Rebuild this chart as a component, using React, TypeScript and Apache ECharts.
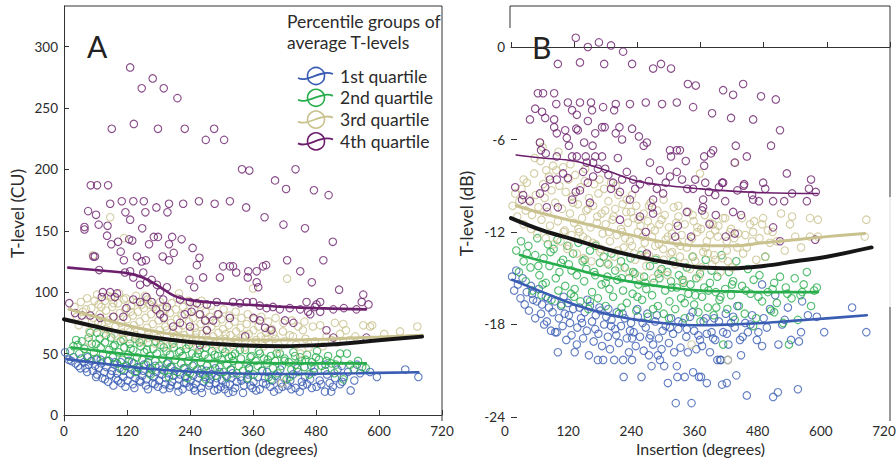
import React, { useEffect, useRef } from "react";
import * as echarts from "echarts";

const xTicks = [0, 120, 240, 360, 480, 600, 720];
const yTicksA = [0, 50, 100, 150, 200, 250, 300];
const yTicksB = [-24, -18, -12, -6, 0];
const groups = ["1st quartile", "2nd quartile", "3rd quartile", "4th quartile"];
const legendTitle = ["Percentile groups of", "average T-levels"];
const colors = ["#3a5db3", "#27ad4b", "#c9c28f", "#6c1f6d"];
const overallColor = "#161616";

// Panel A: T-level (CU) vs insertion (degrees)
const aQ1 = [[2,51],[9,45],[14,44],[22,42],[27,40],[33,46],[38,43],[41,38],[47,41],[52,44],[55,36],[59,40],[63,33],[66,38],[71,42],[73,30],[77,35],[81,39],[84,27],[89,33],[91,36],[96,41],[99,30],[101,34],[106,38],[109,26],[113,31],[114,36],[119,40],[121,28],[126,33],[129,37],[131,25],[136,30],[139,35],[141,39],[146,27],[149,32],[151,36],[156,24],[157,29],[163,34],[164,38],[169,26],[171,31],[176,35],[179,23],[181,28],[186,33],[187,37],[193,25],[194,30],[199,34],[201,22],[206,27],[209,32],[211,36],[216,24],[219,29],[221,33],[226,21],[229,26],[231,31],[236,35],[239,23],[241,28],[246,32],[249,20],[251,25],[256,30],[259,34],[261,22],[266,27],[269,31],[271,36],[276,24],[279,29],[281,33],[286,20],[289,26],[291,30],[296,35],[299,23],[301,28],[306,21],[309,32],[313,18],[316,25],[319,30],[321,34],[326,22],[329,27],[336,31],[341,18],[343,24],[349,29],[351,33],[359,22],[361,27],[369,31],[373,21],[379,26],[383,30],[387,35],[393,23],[397,28],[403,32],[409,21],[413,26],[419,30],[426,24],[431,28],[436,33],[441,22],[449,19],[453,27],[459,31],[463,25],[469,29],[476,35],[481,23],[487,28],[497,19],[501,33],[506,26],[509,19],[516,30],[521,37],[526,25],[533,31],[541,35],[546,20],[553,28],[564,34],[583,35],[596,31],[650,37],[675,31],[45,47],[62,45],[85,44],[108,43],[133,42],[152,41],[174,40],[203,39],[228,38],[262,37],[288,38],[318,37],[352,38],[378,36],[412,37],[444,38],[471,40],[498,41],[529,40],[558,41],[18,47],[31,38],[44,35],[61,31],[78,29],[94,24],[103,28],[117,23],[134,22],[144,28],[160,21],[173,25],[189,21],[203,24],[218,19],[233,26],[247,22],[263,18],[277,26],[293,21],[308,25],[322,19],[338,28],[355,24],[366,20],[385,25],[400,19],[416,23],[433,21],[455,24],[472,22],[490,25],[512,23],[530,27],[70,45],[97,43],[123,44],[160,43],[196,42],[245,40]];
const aQ2 = [[12,52],[18,56],[23,61],[29,50],[34,60],[39,54],[44,48],[50,67],[53,58],[57,51],[63,67],[62,46],[68,62],[70,55],[74,49],[78,59],[82,44],[86,53],[90,63],[93,47],[97,57],[101,42],[104,51],[108,60],[111,45],[115,55],[118,40],[122,49],[125,58],[129,43],[132,53],[136,62],[139,47],[142,38],[146,56],[149,45],[153,51],[156,41],[160,59],[163,48],[167,37],[170,54],[174,44],[177,50],[181,40],[184,57],[188,46],[191,36],[195,52],[198,43],[202,49],[205,39],[209,55],[212,45],[216,35],[219,51],[223,42],[226,48],[230,38],[233,54],[237,44],[240,34],[244,50],[247,41],[251,47],[254,37],[258,53],[261,43],[265,33],[268,49],[272,40],[275,46],[279,36],[282,52],[286,42],[289,32],[293,48],[296,39],[300,45],[304,35],[307,51],[311,41],[314,47],[318,37],[322,44],[326,50],[329,34],[333,40],[337,46],[341,36],[345,53],[349,42],[353,38],[357,48],[361,33],[365,44],[369,40],[373,50],[377,36],[381,46],[386,42],[390,31],[394,48],[398,38],[402,44],[407,34],[411,50],[415,40],[420,46],[424,29],[428,43],[433,37],[437,51],[441,41],[446,35],[450,47],[453,44],[458,39],[463,49],[467,33],[472,43],[477,38],[482,52],[486,45],[491,40],[497,36],[503,48],[509,42],[515,34],[521,45],[526,50],[532,29],[539,50],[545,41],[552,37],[560,44],[568,39],[575,38],[26,57],[47,63],[61,58],[80,65],[94,56],[113,61],[127,54],[144,59],[158,53],[175,60],[190,55],[207,58],[222,52],[238,57],[255,50],[270,55],[287,49],[302,54],[320,48],[335,53],[355,47],[371,52],[388,45],[405,50],[420,44],[440,48],[460,45],[480,47],[500,44],[518,41],[110,37],[135,35],[165,33],[200,31],[235,30],[270,29],[310,31],[350,30],[395,29],[430,31]];
const aQ3 = [[20,88],[24,80],[28,73],[32,92],[36,84],[40,76],[44,95],[48,68],[52,87],[55,130],[56,79],[60,71],[63,98],[66,90],[68,82],[72,74],[75,66],[78,93],[80,85],[84,77],[86,69],[88,161],[90,96],[92,88],[95,80],[98,72],[100,64],[103,91],[106,83],[108,75],[111,67],[114,144],[114,94],[117,86],[120,78],[122,70],[125,62],[128,89],[131,81],[133,73],[136,65],[139,92],[141,84],[144,76],[147,68],[150,60],[152,87],[155,79],[158,71],[160,63],[163,90],[166,82],[169,74],[171,66],[174,58],[177,85],[180,77],[182,69],[185,61],[188,88],[191,80],[193,72],[196,64],[199,56],[202,83],[204,75],[207,67],[210,59],[213,86],[215,78],[218,70],[221,62],[224,81],[226,73],[229,65],[232,57],[235,84],[238,76],[240,68],[243,60],[246,79],[249,71],[251,63],[254,55],[257,82],[260,74],[263,66],[266,58],[269,77],[272,69],[275,61],[278,80],[281,72],[284,64],[287,56],[290,75],[294,67],[297,59],[300,78],[303,70],[307,62],[310,54],[314,73],[317,65],[321,57],[325,76],[328,68],[332,60],[336,71],[340,63],[344,55],[348,74],[352,66],[357,58],[360,103],[361,69],[366,61],[370,72],[375,64],[380,56],[385,67],[390,59],[392,69],[396,70],[402,62],[408,54],[415,26],[417,68],[420,60],[425,111],[430,65],[436,64],[442,57],[450,50],[455,69],[460,62],[466,55],[474,72],[478,60],[488,73],[493,56],[500,64],[510,61],[516,75],[520,59],[526,66],[532,74],[537,69],[545,61],[555,64],[570,73],[583,72],[587,73],[610,66],[640,68],[673,72],[42,86],[58,93],[71,88],[83,97],[94,91],[105,99],[118,95],[127,84],[137,97],[148,90],[159,94],[170,88],[183,92],[194,86],[205,91],[216,95],[227,88],[237,93],[248,86],[258,90],[270,84],[280,89],[292,82],[304,86],[315,81],[327,84],[338,79],[350,82],[362,78],[376,80],[389,76],[403,79],[418,75],[434,77],[446,72],[458,76],[96,66],[112,62],[126,68],[143,61],[161,66],[178,63],[196,69],[214,65],[233,62],[252,67],[271,64],[289,58],[308,66],[327,61],[346,65],[365,59],[384,62],[399,66],[47,60],[65,75],[79,70],[154,97],[219,99],[262,93]];
const aQ4 = [[126,283],[169,274],[148,266],[190,266],[216,258],[91,233],[133,237],[179,233],[230,233],[286,233],[270,224],[305,224],[339,200],[353,199],[441,200],[402,191],[423,184],[476,183],[504,179],[51,187],[63,187],[84,187],[46,166],[61,163],[88,172],[110,174],[132,174],[152,174],[117,165],[155,165],[126,159],[176,169],[200,172],[197,165],[227,172],[257,174],[287,172],[316,174],[347,169],[382,161],[418,155],[459,152],[39,153],[66,155],[83,154],[149,152],[39,151],[82,146],[90,139],[103,141],[124,143],[130,142],[108,133],[114,126],[139,129],[148,125],[156,126],[162,139],[171,145],[179,145],[206,145],[200,139],[209,132],[224,143],[245,136],[258,128],[253,122],[265,112],[239,110],[248,104],[188,129],[200,126],[303,121],[316,121],[322,121],[297,112],[351,117],[367,117],[379,121],[385,122],[367,108],[370,104],[425,126],[450,117],[494,126],[512,141],[524,102],[472,108],[328,116],[350,112],[56,129],[59,129],[67,118],[74,100],[88,100],[101,99],[97,96],[72,96],[10,91],[21,83],[34,81],[50,81],[69,79],[94,80],[119,87],[113,80],[132,94],[145,92],[157,96],[167,92],[175,86],[183,82],[190,79],[196,88],[208,72],[221,75],[230,82],[243,84],[259,82],[269,77],[284,77],[294,82],[316,79],[272,69],[259,57],[240,72],[345,64],[361,79],[373,77],[383,71],[395,69],[421,77],[437,75],[450,86],[465,84],[478,88],[488,92],[500,69],[513,86],[513,63],[557,86],[570,98],[567,92],[576,63],[580,90],[533,87],[221,94],[240,92],[253,91],[272,90],[291,92],[322,92],[335,91],[348,92],[360,92],[373,89],[386,87],[398,88],[411,86],[430,87],[462,92],[469,82],[481,90],[488,84],[189,94],[183,100],[196,104],[177,106],[158,108],[145,106],[132,112],[116,116],[126,117],[151,116],[167,110]];
const aFitQ1 = [[5,45.5],[60,42.5],[120,39.5],[180,37],[240,35.3],[300,34.2],[360,33.6],[420,33.4],[480,33.6],[560,34],[675,34.8]];
const aFitQ2 = [[15,55],[60,52.5],[120,49.5],[180,47],[240,45],[300,43.5],[360,42.5],[420,42],[480,42],[575,42]];
const aFitQ3 = [[10,86],[60,80],[120,73],[180,67.5],[240,64],[300,62],[360,61],[420,61],[480,61.5],[540,62.5],[600,63.5],[682,65]];
const aFitQ4 = [[8,120],[60,118],[120,115.5],[150,112],[180,105],[210,97],[240,93.5],[300,91],[360,89.5],[420,88],[480,87],[575,86]];
const aFitAll = [[0,78],[60,72],[120,66.5],[180,62.5],[240,59.5],[300,57.5],[360,56.3],[420,56],[480,56.8],[540,58.5],[600,60.8],[682,63.8]];

// Panel B: T-level (dB) vs insertion (degrees)
const bQ1 = [[2,-14.9],[6,-15.8],[10,-14.5],[13,-15.4],[18,-16.3],[22,-15.0],[26,-16.7],[30,-15.9],[34,-17.1],[38,-15.5],[42,-16.4],[46,-17.6],[49,-16.5],[53,-15.7],[57,-17.3],[59,-16.7],[63,-18.0],[66,-16.2],[68,-17.8],[72,-16.9],[76,-18.4],[79,-17.2],[83,-16.5],[84,-18.5],[87,-18.5],[89,-19.8],[91,-17.6],[95,-16.8],[98,-18.1],[102,-17.3],[105,-19.0],[108,-16.6],[112,-17.9],[115,-18.7],[118,-17.0],[121,-19.8],[125,-19.3],[126,-18.2],[130,-16.9],[133,-17.6],[137,-18.9],[140,-17.2],[144,-18.4],[148,-20.0],[150,-16.8],[154,-17.8],[157,-19.1],[161,-17.4],[165,-20.3],[166,-18.6],[170,-17.1],[173,-19.4],[175,-20.3],[177,-18.0],[181,-17.5],[184,-18.8],[188,-19.6],[191,-17.7],[196,-20.3],[198,-18.3],[201,-17.2],[205,-19.2],[209,-18.1],[213,-20.3],[214,-21.4],[216,-17.6],[220,-18.9],[224,-19.8],[228,-17.9],[230,-20.3],[233,-18.5],[237,-19.4],[241,-17.5],[245,-18.8],[248,-21.4],[252,-19.7],[256,-18.2],[259,-17.3],[262,-20.0],[265,-18.7],[267,-20.7],[270,-19.3],[274,-17.8],[279,-20.0],[281,-18.9],[283,-20.3],[286,-19.6],[291,-20.7],[294,-18.1],[298,-21.8],[300,-19.2],[304,-17.6],[308,-18.6],[310,-19.8],[313,-23.1],[315,-20.7],[316,-21.4],[318,-18.3],[322,-19.5],[326,-17.9],[330,-21.4],[333,-18.8],[336,-19.8],[340,-17.5],[343,-23.1],[346,-21.1],[348,-18.4],[352,-19.6],[357,-21.4],[359,-19.0],[361,-21.4],[363,-19.4],[366,-17.8],[372,-21.8],[372,-18.6],[378,-19.8],[381,-18.5],[386,-17.6],[388,-19.0],[392,-20.3],[397,-20.3],[399,-20.3],[401,-21.9],[403,-18.5],[408,-17.3],[410,-21.8],[412,-20.3],[413,-19.3],[418,-17.9],[425,-18.2],[428,-21.3],[430,-16.8],[435,-19.0],[437,-20.0],[445,-17.9],[448,-22.6],[450,-18.5],[458,-17.4],[467,-19.0],[470,-18.5],[477,-15.4],[477,-19.4],[486,-18.2],[492,-17.0],[498,-22.7],[502,-16.1],[507,-22.4],[508,-19.3],[515,-18.0],[520,-17.7],[526,-16.9],[532,-19.0],[545,-22.2],[547,-19.1],[551,-18.5],[553,-16.5],[564,-17.4],[581,-17.5],[595,-18.5],[648,-16.9],[675,-18.5],[40,-16.0],[70,-16.3],[100,-16.2],[110,-17.4],[135,-17.9],[145,-16.4],[160,-18.3],[168,-16.9],[185,-17.0],[200,-18.7],[212,-17.3],[226,-18.4],[240,-17.0],[250,-17.9],[263,-18.9],[277,-17.4],[288,-18.4],[302,-18.2],[318,-17.8],[334,-18.3],[345,-17.2],[356,-18.7],[370,-17.6],[384,-18.9],[395,-17.8],[410,-18.6],[422,-17.5],[440,-18.8],[455,-18.0],[480,-17.6],[230,-18.9],[190,-18.1]];
const bQ2 = [[10,-13.2],[15,-14.6],[19,-12.6],[24,-13.9],[28,-15.2],[33,-12.9],[37,-14.3],[41,-15.8],[46,-13.5],[50,-12.4],[54,-14.8],[58,-16.1],[62,-13.7],[66,-15.3],[70,-12.8],[73,-14.2],[77,-16.4],[81,-13.1],[85,-15.0],[88,-12.5],[92,-14.6],[96,-16.7],[99,-13.8],[103,-15.5],[107,-12.9],[110,-14.1],[114,-16.0],[118,-13.4],[121,-15.7],[125,-14.8],[128,-12.7],[132,-16.5],[136,-13.9],[139,-15.2],[143,-14.4],[147,-17.0],[150,-13.2],[154,-15.9],[158,-14.6],[161,-12.9],[165,-16.3],[169,-14.0],[172,-15.4],[176,-13.6],[180,-16.8],[183,-14.9],[187,-15.7],[191,-13.4],[194,-16.2],[198,-14.5],[202,-15.1],[205,-17.3],[209,-13.9],[213,-15.8],[216,-14.3],[220,-16.6],[224,-15.0],[227,-13.7],[231,-16.0],[235,-14.7],[238,-17.1],[242,-15.4],[246,-13.5],[249,-16.4],[253,-14.9],[257,-15.7],[260,-17.5],[264,-14.2],[268,-16.1],[271,-15.3],[275,-13.8],[279,-16.8],[282,-15.0],[286,-14.4],[290,-17.3],[293,-15.8],[297,-14.6],[301,-16.5],[304,-15.2],[308,-13.9],[312,-17.0],[315,-15.6],[319,-14.8],[323,-16.3],[326,-15.1],[330,-17.6],[334,-14.3],[337,-16.0],[341,-15.4],[345,-13.6],[348,-16.7],[352,-15.0],[356,-17.2],[359,-14.7],[363,-16.2],[367,-15.6],[370,-13.8],[374,-16.9],[378,-15.3],[381,-14.5],[385,-17.4],[389,-15.9],[392,-14.9],[396,-16.4],[400,-13.5],[403,-19.3],[407,-15.7],[411,-17.0],[414,-14.6],[418,-16.1],[422,-15.2],[428,-13.9],[433,-16.8],[439,-15.5],[444,-17.3],[450,-14.4],[455,-16.0],[461,-15.1],[466,-17.6],[472,-14.8],[477,-16.5],[483,-13.6],[488,-15.9],[494,-17.1],[500,-15.3],[505,-16.6],[511,-14.9],[517,-17.9],[522,-15.6],[528,-19.3],[533,-16.3],[539,-15.0],[545,-17.7],[550,-16.1],[556,-15.4],[562,-14.6],[570,-16.8],[576,-15.8],[581,-15.6],[30,-13.4],[52,-14.2],[75,-13.3],[95,-14.0],[115,-14.5],[140,-13.8],[160,-14.8],[185,-14.1],[210,-15.0],[232,-14.6],[255,-15.3],[280,-14.7],[305,-15.6],[328,-15.3],[350,-16.1],[375,-15.8],[398,-16.2],[420,-15.4],[446,-15.8],[470,-16.2],[497,-15.7],[525,-16.0],[553,-15.9],[60,-15.4],[90,-15.8],[120,-16.2],[150,-16.5],[180,-15.3],[210,-16.9],[240,-16.2],[270,-17.0],[300,-17.6],[330,-16.6],[360,-17.8],[390,-16.9],[425,-17.7],[460,-18.1],[500,-17.2]];
const bQ3 = [[3,-10.3],[8,-9.5],[12,-11.0],[16,-10.0],[20,-9.2],[24,-11.5],[28,-10.6],[30,-8.8],[34,-9.9],[38,-11.8],[40,-10.9],[44,-8.2],[47,-9.6],[50,-12.1],[52,-10.4],[55,-6.2],[56,-7.4],[58,-11.2],[61,-8.9],[64,-9.8],[66,-12.4],[69,-10.7],[72,-8.4],[74,-11.6],[77,-9.3],[80,-7.7],[81,-12.8],[84,-10.1],[86,-8.0],[89,-11.3],[92,-9.0],[94,-12.6],[97,-10.5],[99,-7.8],[102,-11.9],[104,-9.4],[107,-13.1],[109,-8.6],[112,-10.8],[115,-12.2],[117,-9.7],[120,-11.4],[122,-8.3],[125,-13.4],[127,-10.2],[130,-12.0],[132,-9.1],[135,-11.1],[138,-13.7],[140,-8.7],[143,-10.6],[145,-12.5],[148,-9.8],[151,-11.7],[153,-13.9],[156,-10.3],[158,-8.9],[161,-12.8],[164,-11.0],[166,-9.5],[169,-13.3],[172,-10.8],[174,-12.1],[177,-9.2],[180,-11.5],[182,-14.0],[185,-10.0],[188,-12.6],[190,-8.8],[193,-11.2],[196,-13.6],[198,-10.5],[201,-12.2],[204,-9.6],[206,-14.3],[209,-11.8],[212,-10.2],[214,-13.0],[217,-12.4],[220,-9.9],[222,-11.4],[225,-14.6],[228,-10.7],[230,-12.9],[233,-11.1],[236,-13.8],[238,-10.3],[241,-12.0],[244,-14.9],[246,-11.6],[249,-13.2],[252,-10.8],[254,-12.7],[257,-14.2],[260,-11.3],[262,-13.5],[265,-10.1],[268,-12.3],[270,-15.0],[273,-11.9],[276,-13.7],[278,-10.6],[281,-12.8],[284,-14.5],[286,-11.2],[289,-13.1],[292,-10.9],[294,-12.5],[297,-14.8],[300,-11.7],[303,-13.4],[306,-12.1],[309,-10.4],[312,-14.1],[315,-12.7],[318,-11.0],[321,-13.6],[324,-12.2],[327,-15.2],[330,-11.5],[334,-13.0],[337,-10.7],[340,-14.4],[344,-12.4],[347,-11.3],[350,-13.9],[354,-12.0],[357,-14.9],[359,-8.2],[361,-11.8],[365,-13.3],[368,-10.9],[372,-12.6],[374,-13.4],[378,-11.4],[382,-14.1],[384,-11.5],[388,-13.8],[388,-11.9],[393,-12.3],[398,-14.6],[403,-11.1],[407,-11.1],[410,-13.2],[412,-13.9],[416,-12.0],[420,-14.3],[424,-12.4],[426,-7.5],[430,-13.0],[439,-11.1],[441,-13.4],[445,-12.2],[454,-11.5],[458,-12.6],[460,-12.0],[466,-13.8],[477,-11.5],[479,-11.1],[483,-13.6],[492,-12.7],[497,-12.0],[513,-10.8],[520,-13.2],[530,-11.5],[534,-11.0],[540,-12.3],[551,-13.0],[568,-11.1],[568,-12.3],[583,-11.2],[583,-12.3],[672,-12.3],[675,-11.2],[343,-19.3],[412,-20.3],[100,-12.0],[110,-12.9],[118,-10.1],[128,-11.8],[137,-12.3],[146,-10.5],[155,-12.7],[163,-11.4],[171,-13.1],[179,-10.6],[186,-12.0],[195,-11.0],[203,-13.2],[211,-12.0],[219,-10.7],[226,-12.6],[234,-13.4],[242,-11.2],[250,-12.3],[258,-13.6],[266,-11.7],[274,-12.9],[282,-11.5],[290,-13.8],[298,-12.3],[306,-13.3],[314,-11.4],[322,-12.9],[330,-14.0],[338,-12.6],[346,-13.6],[354,-11.7],[362,-14.3],[370,-13.0],[378,-12.2],[386,-13.5],[394,-11.6],[402,-13.7],[410,-12.6],[418,-11.8],[432,-12.1],[448,-13.0],[462,-11.3],[472,-12.4],[488,-11.9],[505,-12.6],[24,-8.6],[45,-7.2],[67,-8.0],[60,-6.5],[90,-6.8],[113,-7.6],[141,-7.9],[168,-8.6],[199,-9.0],[230,-9.6],[262,-10.3],[290,-9.9],[318,-10.3],[345,-10.9]];
const bQ4 = [[123,0.6],[146,0],[167,0.3],[190,0.1],[213,-0.3],[89,-1.1],[131,-1.0],[177,-1.1],[230,-1.1],[270,-1.4],[285,-1.1],[304,-1.4],[336,-2.4],[351,-2.5],[403,-2.8],[422,-3.1],[441,-2.4],[475,-3.2],[503,-3.4],[51,-3.0],[61,-3.0],[82,-3.0],[46,-4.0],[59,-4.2],[36,-4.7],[65,-4.6],[82,-4.7],[86,-3.7],[108,-3.6],[131,-3.6],[152,-3.6],[154,-4.1],[116,-4.1],[125,-4.4],[175,-3.9],[199,-3.7],[196,-4.1],[226,-3.7],[256,-3.6],[287,-3.7],[315,-3.6],[346,-3.9],[382,-4.3],[418,-4.6],[460,-4.7],[146,-4.8],[82,-5.2],[87,-5.6],[103,-5.4],[124,-5.3],[127,-5.4],[160,-5.6],[173,-5.2],[178,-5.2],[199,-5.6],[206,-5.2],[230,-5.3],[243,-5.8],[211,-6.0],[106,-5.9],[110,-6.4],[139,-6.2],[155,-6.4],[252,-6.4],[258,-6.2],[55,-6.2],[57,-6.7],[66,-6.9],[87,-7.1],[116,-7.1],[125,-7.1],[142,-7.1],[160,-7.1],[173,-7.1],[144,-7.5],[156,-7.5],[203,-7.2],[264,-7.5],[302,-6.7],[315,-6.7],[321,-6.7],[304,-7.1],[332,-7.4],[367,-7.1],[380,-6.9],[384,-6.7],[427,-6.4],[448,-7.1],[494,-6.4],[511,-5.4],[425,-7.5],[367,-7.7],[524,-8.2],[570,-8.6],[566,-9.2],[579,-9.4],[562,-10.0],[534,-9.5],[519,-10.0],[498,-10.0],[483,-9.2],[479,-8.8],[471,-10.0],[458,-9.6],[460,-9.9],[443,-8.9],[430,-9.3],[422,-10.7],[407,-10.0],[403,-8.8],[388,-9.6],[376,-9.4],[369,-8.8],[365,-9.9],[363,-10.6],[346,-9.2],[335,-9.2],[334,-10.7],[325,-8.6],[315,-8.1],[302,-8.4],[294,-8.8],[289,-9.5],[277,-9.2],[270,-9.9],[268,-10.4],[270,-10.8],[245,-8.9],[236,-9.2],[226,-9.9],[211,-8.6],[207,-9.4],[194,-8.8],[190,-9.2],[179,-7.9],[165,-7.9],[156,-8.4],[146,-8.8],[137,-8.1],[131,-9.3],[123,-9.4],[108,-8.5],[99,-8.2],[87,-8.6],[74,-8.6],[65,-9.1],[55,-9.5],[36,-10.0],[23,-9.6],[21,-9.9],[8,-9.1],[68,-10.4],[89,-10.4],[116,-9.9],[150,-10.1],[207,-11.2],[245,-11.0],[317,-11.6],[256,-12.0],[312,-12.3],[342,-12.3],[408,-12.3],[425,-12.1],[511,-12.6],[578,-12.5],[258,-13.4],[401,-8.8],[442,-9.0],[377,-11.5],[389,-10.9],[365,-10.4],[437,-10.9],[498,-11.7],[185,-8.3],[220,-8.1],[232,-8.6],[283,-8.0],[262,-8.7],[350,-8.6],[395,-9.1]];
const bFitQ1 = [[2,-15.1],[60,-15.9],[120,-16.7],[180,-17.3],[240,-17.7],[300,-17.95],[360,-18.05],[420,-18.0],[480,-17.9],[540,-17.75],[600,-17.6],[676,-17.4]];
const bFitQ2 = [[17,-13.5],[60,-13.9],[120,-14.4],[180,-14.9],[240,-15.3],[300,-15.6],[360,-15.8],[420,-15.85],[480,-15.9],[583,-15.9]];
const bFitQ3 = [[10,-10.3],[60,-10.8],[120,-11.3],[180,-11.8],[240,-12.3],[300,-12.7],[360,-12.9],[420,-12.9],[480,-12.7],[540,-12.5],[600,-12.3],[672,-12.1]];
const bFitQ4 = [[10,-7.0],[60,-7.2],[120,-7.4],[180,-8.0],[240,-8.7],[300,-9.0],[360,-9.2],[420,-9.35],[480,-9.45],[583,-9.5]];
const bFitAll = [[0,-11.1],[60,-11.9],[120,-12.5],[180,-13.1],[240,-13.6],[300,-14.0],[360,-14.3],[420,-14.35],[480,-14.2],[540,-13.9],[600,-13.6],[685,-13.0]];

const FONT = "Lato, 'Open Sans', sans-serif";
const TXT = "#2b2b2b";
const AX = "#333";
const TITLE_SIZE = 17.5;
const TICK_SIZE = 13.5;

export default function App() {
  const ref = useRef<HTMLDivElement>(null);
  useEffect(() => {
    document.body.style.margin = "0";
    const chart = echarts.init(ref.current!, null, { renderer: "svg" });

    const scatter = (data: number[][], i: number, idx: number) => ({
      type: "scatter",
      xAxisIndex: idx,
      yAxisIndex: idx,
      data,
      symbol: "circle",
      symbolSize: 7.5,
      silent: true,
      itemStyle: { color: "rgba(0,0,0,0)", borderColor: colors[i], borderWidth: 1.1 },
      z: 2,
    });
    const fit = (data: number[][], color: string, width: number, idx: number, z: number) => ({
      type: "line",
      xAxisIndex: idx,
      yAxisIndex: idx,
      data,
      smooth: 0.4,
      symbol: "none",
      silent: true,
      lineStyle: { color, width, cap: "round" },
      z,
    });

    const xAxisBase = (gridIndex: number) => ({
      type: "value",
      gridIndex,
      min: xTicks[0],
      max: xTicks[xTicks.length - 1],
      interval: 120,
      axisLine: { show: true, lineStyle: { color: AX, width: 1 } },
      axisTick: { show: true, inside: true, length: 5, lineStyle: { color: AX } },
      axisLabel:
        gridIndex === 0
          ? { margin: 3, fontSize: TICK_SIZE, color: TXT, fontFamily: FONT }
          : { margin: 3, fontSize: TICK_SIZE, color: TXT, fontFamily: FONT, padding: [0, 12, 0, 0] },
      splitLine: { show: false },
      name: "Insertion (degrees)",
      nameLocation: "middle",
      nameGap: 19.5,
      nameMoveOverlap: false,
      nameTextStyle: { fontSize: 16, color: TXT, fontFamily: FONT },
    });

    const lines: any[] = [
      [64, 6, 442, 6, AX],
      [442, 6, 442, 421, AX],
      [510, 6, 890, 6, AX],
      [510, 6, 510, 28, AX],
      [890, 6, 890, 197, AX],
      [890, 197, 890, 307, "#dcdcdc"],
      [890, 307, 890, 421, AX],
    ];

    const graphic: any[] = lines.map(([x1, y1, x2, y2, c]) => ({
      type: "line",
      shape: { x1, y1, x2, y2 },
      style: { stroke: c, lineWidth: 1 },
      silent: true,
    }));
    graphic.push(
      { type: "text", x: 87, y: 46, style: { text: "A", fontSize: 30, fontFamily: FONT, fill: "#222", verticalAlign: "middle" } },
      { type: "text", x: 532, y: 47, style: { text: "B", fontSize: 30, fontFamily: FONT, fill: "#222", verticalAlign: "middle" } },
      { type: "text", x: 287, y: 21, style: { text: legendTitle[0], fontSize: TITLE_SIZE, fontFamily: FONT, fill: TXT, verticalAlign: "middle" } },
      { type: "text", x: 287, y: 42, style: { text: legendTitle[1], fontSize: TITLE_SIZE, fontFamily: FONT, fill: TXT, verticalAlign: "middle" } }
    );
    groups.forEach((g, i) => {
      const y = 76 + i * 21.8;
      graphic.push(
        { type: "circle", shape: { cx: 316, cy: y, r: 8.5 }, style: { fill: "none", stroke: colors[i], lineWidth: 1.6 } },
        {
          type: "bezierCurve",
          shape: { x1: 298, y1: y + 2, cpx1: 308, cpy1: y + 7, cpx2: 321, cpy2: y - 7, x2: 333, y2: y - 2 },
          style: { fill: "none", stroke: colors[i], lineWidth: 1.8 },
        },
        { type: "text", x: 340, y, style: { text: g, fontSize: TITLE_SIZE, fontFamily: FONT, fill: TXT, verticalAlign: "middle" } }
      );
    });

    const option: any = {
      animation: false,
      backgroundColor: "#fff",
      grid: [
        { left: 64, top: 6, width: 378, height: 415, containLabel: false, outerBoundsMode: "none" },
        { left: 511, top: 6, width: 379, height: 415, containLabel: false, outerBoundsMode: "none" },
      ],
      xAxis: [xAxisBase(0), xAxisBase(1)],
      yAxis: [
        {
          type: "value",
          gridIndex: 0,
          min: -4.9,
          max: 333,
          axisLine: { show: true, lineStyle: { color: AX } },
          axisTick: { show: true, inside: true, length: 5, customValues: yTicksA, lineStyle: { color: AX } },
          axisLabel: { margin: 6, fontSize: TICK_SIZE, color: TXT, fontFamily: FONT, customValues: yTicksA },
          splitLine: { show: false },
          name: "T-level (CU)",
          nameLocation: "middle",
          nameRotate: 90,
          nameGap: 38,
          nameMoveOverlap: false,
          nameTextStyle: { fontSize: TITLE_SIZE, color: TXT, fontFamily: FONT },
        },
        {
          type: "value",
          gridIndex: 1,
          min: -24.26,
          max: 2.66,
          axisLine: { show: false },
          axisTick: { show: true, inside: true, length: 6, customValues: yTicksB, lineStyle: { color: AX } },
          axisLabel: { margin: 6, fontSize: TICK_SIZE, color: TXT, fontFamily: FONT, customValues: yTicksB },
          splitLine: { show: false },
          name: "T-level (dB)",
          nameLocation: "middle",
          nameRotate: 90,
          nameGap: 36,
          nameMoveOverlap: false,
          nameTextStyle: { fontSize: TITLE_SIZE, color: TXT, fontFamily: FONT },
        },
      ],
      series: [
        scatter(aQ1, 0, 0),
        scatter(aQ2, 1, 0),
        scatter(aQ3, 2, 0),
        scatter(aQ4, 3, 0),
        fit(aFitQ3, colors[2], 3, 0, 5),
        fit(aFitQ2, colors[1], 2.6, 0, 5),
        fit(aFitQ1, colors[0], 2.6, 0, 5),
        fit(aFitQ4, colors[3], 2.6, 0, 5),
        fit(aFitAll, overallColor, 4, 0, 6),
        scatter(bQ1, 0, 1),
        scatter(bQ2, 1, 1),
        scatter(bQ3, 2, 1),
        scatter(bQ4, 3, 1),
        fit(bFitQ3, colors[2], 3, 1, 5),
        fit(bFitQ2, colors[1], 2.6, 1, 5),
        fit(bFitQ1, colors[0], 2.6, 1, 5),
        fit(bFitQ4, colors[3], 1.6, 1, 5),
        fit(bFitAll, overallColor, 4, 1, 6),
      ],
      graphic,
    };
    chart.setOption(option);
    return () => chart.dispose();
  }, []);
  return <div ref={ref} style={{ width: 896, height: 460 }} />;
}
